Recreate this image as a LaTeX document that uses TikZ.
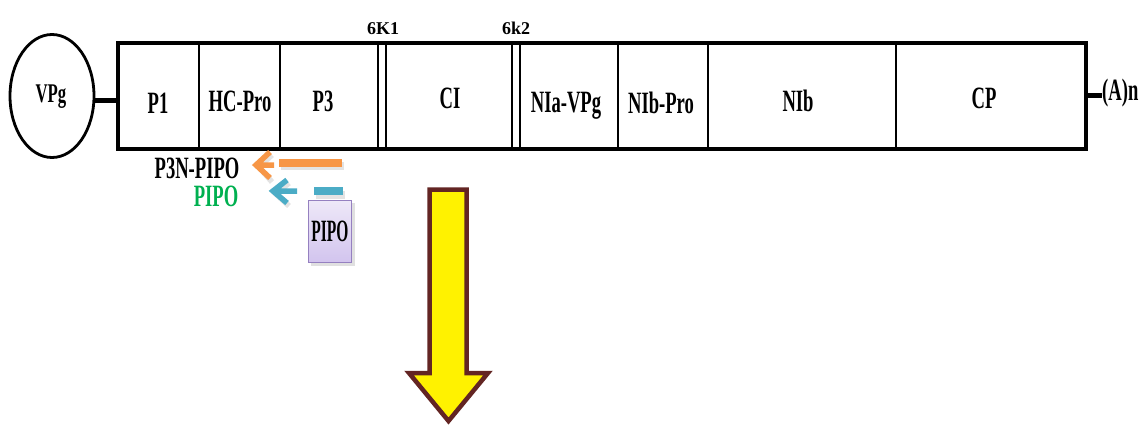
\documentclass[tikz,border=0pt]{standalone}
\usepackage{fontspec}
\setmainfont{Liberation Serif}
\usetikzlibrary{shapes.geometric}

\definecolor{orangebar}{HTML}{F79646}
\definecolor{bluebar}{HTML}{4BACC6}
\definecolor{pipogreen}{HTML}{00B050}
\definecolor{pipoedge}{HTML}{9580C0}
\definecolor{pipotop}{HTML}{EEE8F8}
\definecolor{pipobottom}{HTML}{D2C4EE}
\definecolor{arrowedge}{HTML}{632523}

% horizontally condensed bold label
\newcommand{\narrowtxt}[2][0.6]{\scalebox{#1}[1]{#2}}

\begin{document}
\begin{tikzpicture}[x=1pt,y=-1pt,
  seg/.style={font=\fontsize{31}{32}\selectfont\bfseries, anchor=base, inner sep=0pt},
  small/.style={font=\fontsize{18}{20}\selectfont\bfseries, anchor=base, inner sep=0pt},
  divider/.style={line width=1.3pt},
  bar/.style={line width=8pt},
  chevron/.style={line width=5.5pt, line join=miter},
  shade/.style={black!22, opacity=0.5},
]
\useasboundingbox (0,0) rectangle (1148,428);

% genome frame
\node[draw, line width=4.8pt, minimum width=968pt, minimum height=106pt,
      inner sep=0pt, outer sep=0pt] (genome) at (602,96) {};

% boundaries between the cistrons
\foreach \x in {199,280,378,386,512,520,618,708,896}
  \draw[divider] (\x,45) -- (\x,147);

% cistron names
\node[seg] (p1)   at (158,113) {\narrowtxt{P1}};
\node[seg] (hc)   at (240,111) {\narrowtxt{HC-Pro}};
\node[seg] (p3)   at (323,111) {\narrowtxt{P3}};
\node[seg] (ci)   at (450,108) {\narrowtxt{CI}};
\node[seg] (nia)  at (566,112) {\narrowtxt{NIa-VPg}};
\node[seg] (nib-pro) at (661,113) {\narrowtxt{NIb-Pro}};
\node[seg] (nib)  at (798,111) {\narrowtxt{NIb}};
\node[seg] (cp)   at (984,108) {\narrowtxt{CP}};
\node[small] (k1) at (383,35) {6K1};
\node[small] (k2) at (516,35) {6k2};

% 5' genome-linked protein
\node[draw, ellipse, line width=2.8pt, minimum width=84pt, minimum height=123pt,
      inner sep=0pt] (vpg) at (52,96) {};
\node[font=\fontsize{27}{28}\selectfont\bfseries, anchor=base, inner sep=0pt]
      (vpglabel) at (51,102) {\narrowtxt[0.62]{VPg}};
\coordinate (vpgjoin) at ([yshift=-4pt]vpg.east);
\draw[line width=5pt] (vpgjoin) -- (genome.west |- vpgjoin);

% 3' poly(A) tail
\node[seg, anchor=base west] (polya) at (1102,100) {\narrowtxt{(A)n}};
\coordinate (tail) at (1086,95);
\draw[line width=5pt] (tail) -- (tail -| polya.west);

% P3N-PIPO and PIPO frames
\draw[shade, bar] (344,166) -- (281,166);
\draw[orangebar, bar] (342,162.5) -- (279,162.5);
\draw[shade, chevron] (272,155) -- (259,167) -- (272,182);
\draw[orangebar, chevron] (270,152) -- (256,165) -- (270,178) (256,165) -- (274,165);
\draw[shade, bar] (345,195) -- (316,195);
\draw[bluebar, bar] (343,191) -- (314,191);
\draw[shade, chevron] (289,183) -- (276,194) -- (289,206);
\draw[bluebar, chevron] (287,180) -- (273,191) -- (287,203) (273,191) -- (297,191);

\node[seg] (p3n) at (197,178) {\narrowtxt{P3N-PIPO}};
\node[seg, text=pipogreen] (pipolbl) at (216,206) {\narrowtxt{PIPO}};

\fill[black!20, opacity=0.6] (311,203) rectangle (355,266);
\node[draw=pipoedge, line width=1.5pt, top color=pipotop, bottom color=pipobottom,
      minimum width=43pt, minimum height=62pt, inner sep=0pt]
      (pipo) at (330,231.5) {\fontsize{31}{31}\selectfont\bfseries\narrowtxt[0.5]{PIPO}};

% downward block arrow
\draw[line width=4.5pt, draw=arrowedge, fill=yellow, line join=miter]
  (429.5,189.5) -- (466.5,189.5) -- (466.5,373) -- (488,373) -- (448.5,421)
  -- (409,373) -- (429.5,373) -- cycle;
\end{tikzpicture}
\end{document}
